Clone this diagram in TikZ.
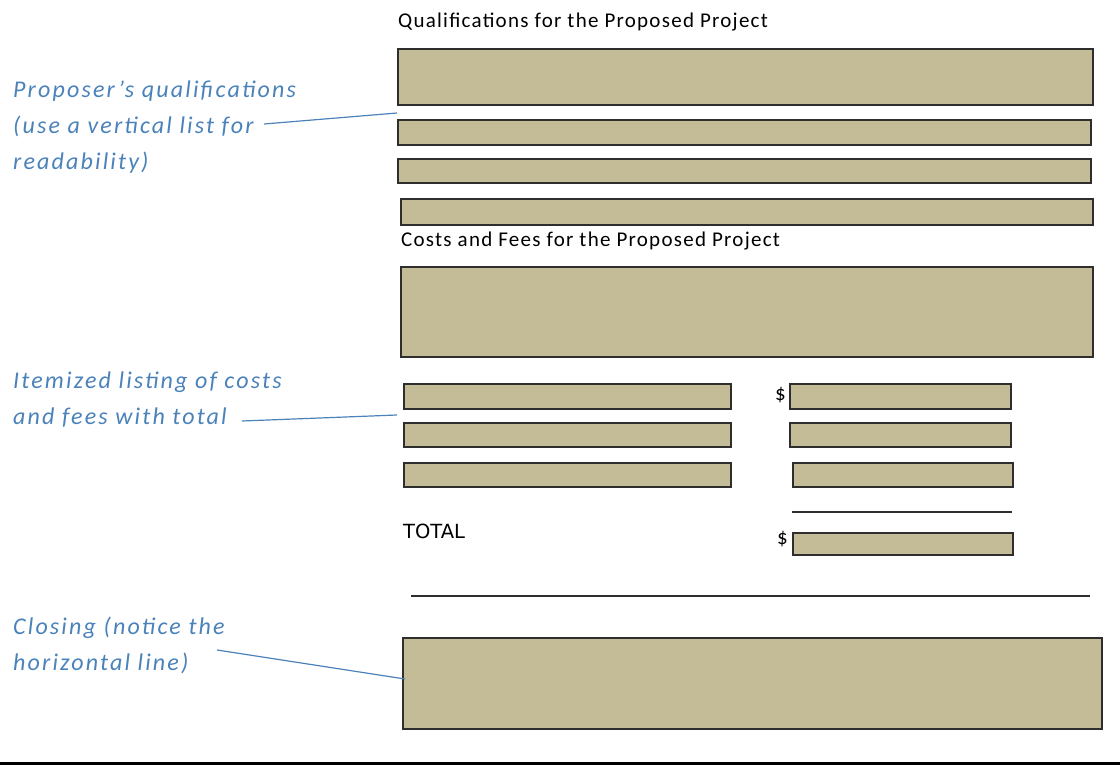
\documentclass[tikz,border=0pt]{standalone}
\usepackage{fontspec}
\setmainfont{Carlito}
\newfontfamily\totalfont{DejaVu Sans}
\definecolor{tan}{HTML}{C4BC96}
\definecolor{edge}{HTML}{2E2E2E}
\definecolor{notecol}{HTML}{4A82B9}

\begin{document}
\begin{tikzpicture}[x=1pt,y=-1pt,
  field/.style={draw=edge,line width=2pt,fill=tan,anchor=north west,inner sep=0pt,outer sep=0pt},
  head/.style={anchor=base west,inner sep=0pt,font=\fontsize{21}{24}\selectfont\addfontfeatures{LetterSpace=6}},
  notelabel/.style={anchor=base west,inner sep=0pt,align=left,text=notecol,
    font=\fontsize{24}{36}\selectfont\itshape\addfontfeatures{LetterSpace=9}},
  leader/.style={draw=notecol,line width=1.2pt},
  rulebar/.style={draw=edge,line width=2pt}]
  \useasboundingbox (0,0) rectangle (1120,765);
  % qualifications
  \node[head] (qhead) at (398,28) {Qualifications for the Proposed Project};
  \node[field,minimum width=695,minimum height=56] (q1) at (398,49) {};
  \node[field,minimum width=693,minimum height=25] (q2) at (398,120) {};
  \node[field,minimum width=693,minimum height=24] (q3) at (398,159) {};
  \node[field,minimum width=692,minimum height=26] (q4) at (401,199) {};
  % costs and fees
  \node[head] (chead) at (401,247) {Costs and Fees for the Proposed Project};
  \node[field,minimum width=692,minimum height=90] (c1) at (401,267) {};
  \foreach \n/\y/\h in {1/384/25,2/423/24,3/463/24}
    \node[field,minimum width=327,minimum height=\h] (item\n) at (404,\y) {};
  \node[field,minimum width=221,minimum height=25] (amount1) at (790,384) {};
  \node[field,minimum width=221,minimum height=24] (amount2) at (790,423) {};
  \node[field,minimum width=220,minimum height=24] (amount3) at (793,463) {};
  \node[head] (dollar1) at (775,400) {\$};
  \coordinate (suml) at (792,512);
  \coordinate (sumr) at (1012,512);
  \draw[rulebar] (suml) -- (sumr);
  \node[head,font=\fontsize{19.5}{22}\selectfont\totalfont] (total) at (403,538) {TOTAL};
  \node[head] (dollar2) at (777,544) {\$};
  \node[field,minimum width=220,minimum height=22] (amountt) at (793,533) {};
  % closing
  \coordinate (closel) at (411,596);
  \coordinate (closer) at (1090,596);
  \draw[rulebar] (closel) -- (closer);
  \node[field,minimum width=699,minimum height=91] (closing) at (403,638) {};
  \coordinate (pagel) at (0,763.5);
  \coordinate (pager) at (1120,763.5);
  \draw[black,line width=3pt] (pagel) -- (pager);
  % labelling (base is the last line)
  \node[notelabel] (lqual) at (13,170) {Proposer’s qualifications\\(use a vertical list for\\readability)};
  \node[notelabel] (litem) at (13,424) {Itemized listing of costs\\and fees with total};
  \node[notelabel] (lclose) at (13,670) {Closing (notice the\\horizontal line)};
  \coordinate (lqa) at (264,124);
  \coordinate (lqb) at (397,113);
  \coordinate (lia) at (242,421);
  \coordinate (lib) at (397,415);
  \coordinate (lca) at (217,650);
  \coordinate (lcb) at (405,679);
  \draw[leader] (lqa) -- (lqb);
  \draw[leader] (lia) -- (lib);
  \draw[leader] (lca) -- (lcb);
\end{tikzpicture}
\end{document}
